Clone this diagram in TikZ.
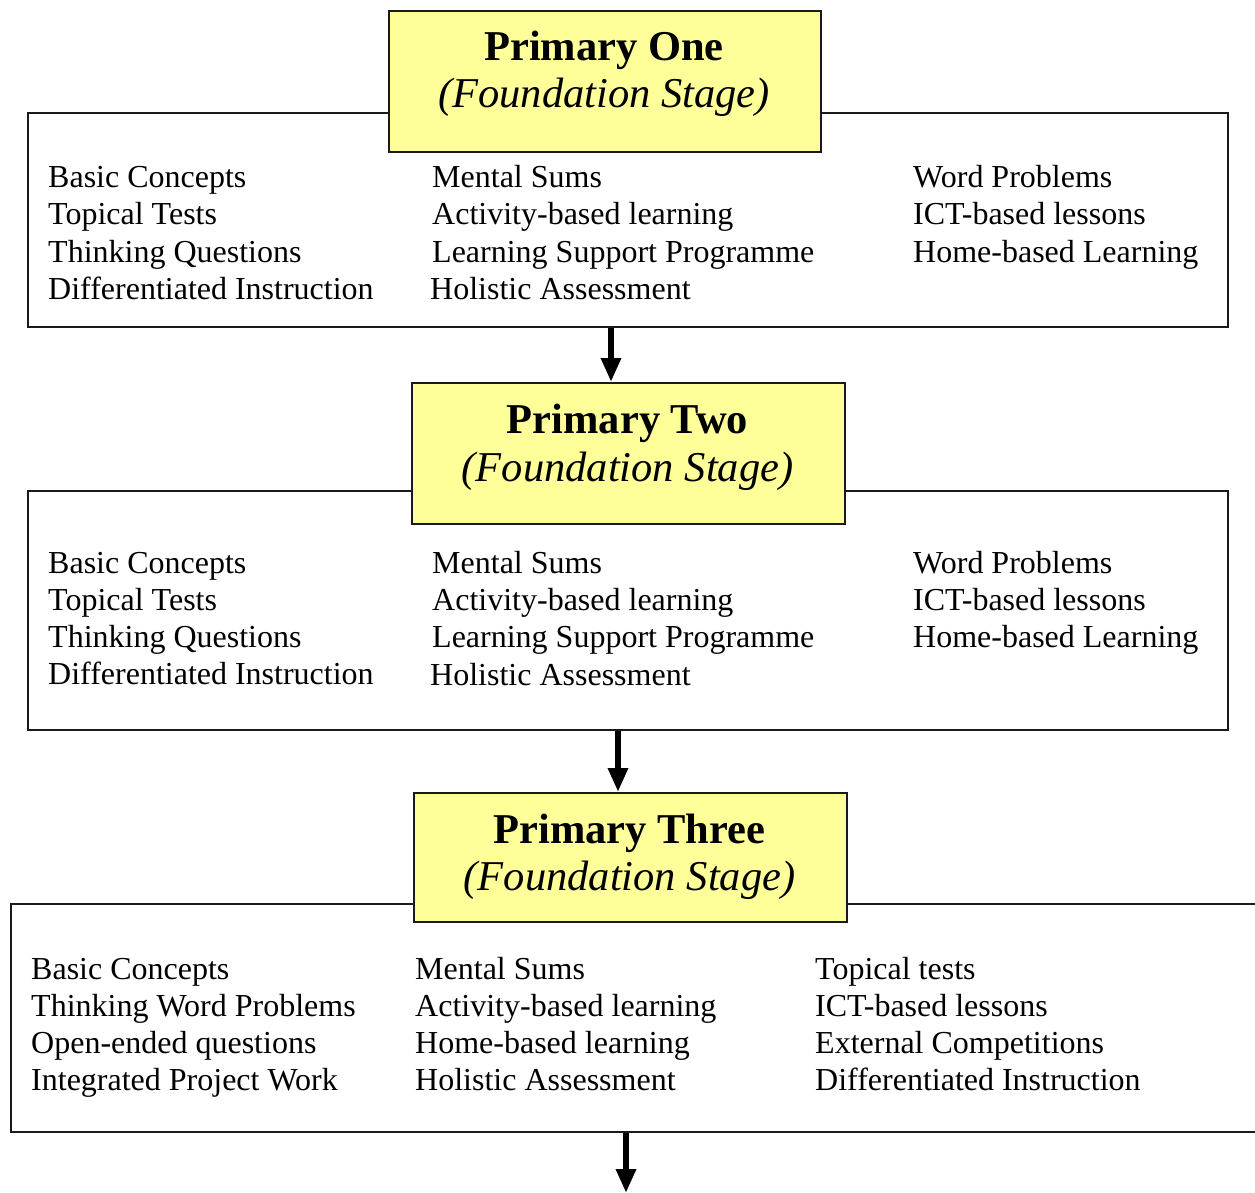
\documentclass[tikz,border=0pt]{standalone}
\usepackage{fontspec}
\setmainfont{Liberation Serif}
\usetikzlibrary{arrows.meta}
\definecolor{ttlfill}{HTML}{FFFF99}
\definecolor{edge}{HTML}{1A1A1A}
\tikzset{
  item/.style={anchor=base west, inner sep=0pt, font=\fontsize{32}{37}\selectfont},
  outerbox/.style={draw=edge, line width=2pt, rectangle, inner sep=0pt, anchor=north west},
  ttlbox/.style={draw=edge, fill=ttlfill, line width=2pt, rectangle, inner sep=0pt, anchor=north west},
  ttlmain/.style={anchor=base, inner sep=0pt, font=\fontsize{42.5}{48}\selectfont\bfseries},
  ttlsub/.style={anchor=base, inner sep=0pt, font=\fontsize{42.5}{48}\selectfont\itshape},
  flow/.style={line width=6pt, -{Triangle[width=19pt,length=24pt]}},
}
\begin{document}
\begin{tikzpicture}[x=1pt,y=-1pt]
\useasboundingbox (0,0) rectangle (1255,1193);
\clip (0,0) rectangle (1255,1193);

% ---------- Stage 1 ----------
\node[outerbox, minimum width=1200pt, minimum height=214pt] (box1) at (27,112) {};
\node[ttlbox, minimum width=432pt, minimum height=141pt] (t1) at (388,10) {};
\node[ttlmain] (t1a) at (604,61) {Primary One};
\node[ttlsub] (t1b) at (604,108) {(Foundation Stage)};
\foreach \t [count=\i from 0] in {Basic Concepts, Topical Tests, Thinking Questions, Differentiated Instruction}
  \node[item] (p1a\i) at (48,{188+37*\i}) {\t};
\foreach \t [count=\i from 0] in {Mental Sums, Activity-based learning, Learning Support Programme}
  \node[item] (p1b\i) at (432,{188+37*\i}) {\t};
\node[item] (p1b3) at (430,299) {Holistic Assessment};
\foreach \t [count=\i from 0] in {Word Problems, ICT-based lessons, Home-based Learning}
  \node[item] (p1c\i) at (913,{188+37*\i}) {\t};

% ---------- Stage 2 ----------
\node[outerbox, minimum width=1200pt, minimum height=239pt] (box2) at (27,490) {};
\node[ttlbox, minimum width=433pt, minimum height=141pt] (t2) at (411,382) {};
\node[ttlmain] (t2a) at (627.5,433) {Primary Two};
\node[ttlsub] (t2b) at (627.5,481) {(Foundation Stage)};
\foreach \t [count=\i from 0] in {Basic Concepts, Topical Tests, Thinking Questions, Differentiated Instruction}
  \node[item] (p2a\i) at (48,{573+37.3*\i}) {\t};
\foreach \t [count=\i from 0] in {Mental Sums, Activity-based learning, Learning Support Programme}
  \node[item] (p2b\i) at (432,{573+37.3*\i}) {\t};
\node[item] (p2b3) at (430,685) {Holistic Assessment};
\foreach \t [count=\i from 0] in {Word Problems, ICT-based lessons, Home-based Learning}
  \node[item] (p2c\i) at (913,{573+37.3*\i}) {\t};

% ---------- Stage 3 ----------
\node[outerbox, minimum width=1265pt, minimum height=228pt] (box3) at (10,903) {};
\node[ttlbox, minimum width=433pt, minimum height=129pt] (t3) at (413,792) {};
\node[ttlmain] (t3a) at (629.5,843) {Primary Three};
\node[ttlsub] (t3b) at (629.5,890) {(Foundation Stage)};
\foreach \t [count=\i from 0] in {Basic Concepts, Thinking Word Problems, Open-ended questions, Integrated Project Work}
  \node[item] (p3a\i) at (31,{979+37*\i}) {\t};
\foreach \t [count=\i from 0] in {Mental Sums, Activity-based learning, Home-based learning, Holistic Assessment}
  \node[item] (p3b\i) at (415,{979+37*\i}) {\t};
\foreach \t [count=\i from 0] in {Topical tests, ICT-based lessons, External Competitions, Differentiated Instruction}
  \node[item] (p3c\i) at (815,{979+37*\i}) {\t};

% ---------- Connectors ----------
\coordinate (a1) at (611,0);
\coordinate (a2) at (618,0);
\coordinate (a3end) at (626,1193);
\draw[flow] (box1.south -| a1) -- (t2.north -| a1);
\draw[flow] (box2.south -| a2) -- (t3.north -| a2);
\draw[flow] (box3.south -| a3end) -- (a3end);
\end{tikzpicture}
\end{document}
